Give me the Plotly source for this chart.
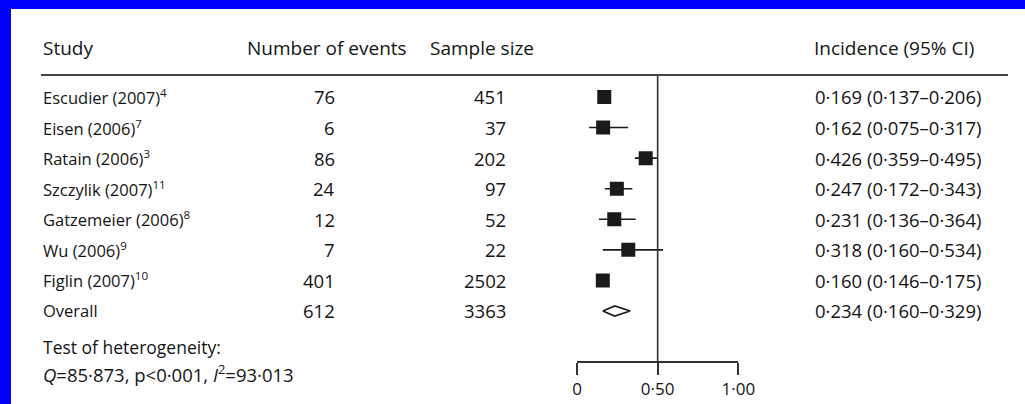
import plotly.graph_objects as go

# ---------------- data ----------------
studies = ["Escudier (2007)<sup>4</sup>", "Eisen (2006)<sup>7</sup>", "Ratain (2006)<sup>3</sup>",
           "Szczylik (2007)<sup>11</sup>", "Gatzemeier (2006)<sup>8</sup>", "Wu (2006)<sup>9</sup>",
           "Figlin (2007)<sup>10</sup>"]
overall_label = "Overall"
events = [76, 6, 86, 24, 12, 7, 401]
samples = [451, 37, 202, 97, 52, 22, 2502]
overall_events = 612
overall_sample = 3363
incidence = [0.169, 0.162, 0.426, 0.247, 0.231, 0.318, 0.160]
ci_low = [0.137, 0.075, 0.359, 0.172, 0.136, 0.160, 0.146]
ci_high = [0.206, 0.317, 0.495, 0.343, 0.364, 0.534, 0.175]
overall_inc = 0.234
overall_low = 0.160
overall_high = 0.329
tick_vals = [0, 0.5, 1.0]
tick_text = ["0", "0·50", "1·00"]
ref_line = 0.5
headers = ["Study", "Number of events", "Sample size", "Incidence (95% CI)"]
het_title = "Test of heterogeneity:"
het_stats = "<i>Q</i>=85·873, p&lt;0·001, <i>I</i><sup>2</sup>=93·013"

# ---------------- layout helpers ----------------
W, H = 1025, 404
FONT = "Open Sans"
TXT = "#151515"
FS_HEAD = 19
FS_LABEL = 16.5
FS_NUM = 18.5
FS_INC = 18.5


def px(xp):
    return xp / W


def py(yp):
    return 1 - yp / H


def fmt(v):
    return f"{v:.3f}".replace(".", "·")


n = len(studies)
row_y = list(range(n))
overall_y = n

fig = go.Figure()

# study squares with CI
fig.add_trace(go.Scatter(
    x=incidence, y=row_y, mode="markers",
    marker=dict(symbol="square", size=14, color="#1a1a1a", line=dict(width=0)),
    error_x=dict(type="data", symmetric=False,
                 array=[h - e for h, e in zip(ci_high, incidence)],
                 arrayminus=[e - l for e, l in zip(incidence, ci_low)],
                 color="#1a1a1a", thickness=1.6, width=0),
    hoverinfo="skip", showlegend=False))

# overall diamond
dh = 0.165
fig.add_trace(go.Scatter(
    x=[overall_low, overall_inc, overall_high, overall_inc, overall_low],
    y=[overall_y, overall_y - dh, overall_y, overall_y + dh, overall_y],
    mode="lines", fill="toself", fillcolor="white",
    line=dict(color="#1a1a1a", width=1.6), hoverinfo="skip", showlegend=False))

y_top_px, y_bot_px = 75, 361
row0_px, row_step = 97, 30.57
y_range = [(y_bot_px - row0_px) / row_step, (y_top_px - row0_px) / row_step]

x0_px, x1_px = 577, 738.3

fig.update_layout(
    width=W, height=H, margin=dict(l=0, r=0, t=0, b=0),
    paper_bgcolor="white", plot_bgcolor="rgba(0,0,0,0)", template="none",
    font=dict(family=FONT, size=16, color=TXT),
    xaxis=dict(domain=[px(x0_px), px(x1_px)], range=[0, 1], showgrid=False, zeroline=False,
               showline=True, linecolor="#333333", linewidth=1.6,
               ticks="outside", ticklen=12, tickwidth=1.6, tickcolor="#333333",
               tickvals=tick_vals, ticktext=tick_text,
               tickfont=dict(family=FONT, size=17, color=TXT)),
    yaxis=dict(domain=[py(y_bot_px), py(y_top_px)], range=y_range, visible=False),
)

# reference vertical line
fig.add_shape(type="line", xref="x", yref="y domain", x0=ref_line, x1=ref_line, y0=0, y1=1,
              line=dict(color="#333333", width=1.6))
# header rule
fig.add_shape(type="line", xref="paper", yref="paper", x0=px(41), x1=px(1008), y0=py(75), y1=py(75),
              line=dict(color="#444444", width=2))
# blue frame (top and left)
fig.add_shape(type="rect", xref="paper", yref="paper", x0=0, x1=1, y0=py(9), y1=1,
              fillcolor="#0000FF", line=dict(width=0), layer="below")
fig.add_shape(type="rect", xref="paper", yref="paper", x0=0, x1=px(11), y0=0, y1=1,
              fillcolor="#0000FF", line=dict(width=0), layer="below")


def ann(text, x, y, size, xanchor="left", yref="paper"):
    fig.add_annotation(text=text, x=x, y=y, xref="paper", yref=yref, xanchor=xanchor,
                       yanchor="middle", showarrow=False,
                       font=dict(family=FONT, size=size, color=TXT))


# headers
hy = py(48)
for text, xl in zip(headers, [41, 245, 428, 812]):
    ann(text, px(xl), hy, FS_HEAD)

labels = studies + [overall_label]
ev = events + [overall_events]
ss = samples + [overall_sample]
inc_txt = [f"{fmt(e)} ({fmt(l)}–{fmt(h)})" for e, l, h in zip(incidence, ci_low, ci_high)]
inc_txt.append(f"{fmt(overall_inc)} ({fmt(overall_low)}–{fmt(overall_high)})")
ys = row_y + [overall_y]
for lab, e, s, t, y in zip(labels, ev, ss, inc_txt, ys):
    ann(lab, px(41), y, FS_LABEL, yref="y")
    ann(str(e), px(337), y, FS_NUM, xanchor="right", yref="y")
    ann(str(s), px(508), y, FS_NUM, xanchor="right", yref="y")
    ann(t, px(813), y, FS_INC, yref="y")

ann(het_title, px(41), py(347), 17.5)
ann(het_stats, px(41), py(373), 18.5)

fig.write_html("out.html", config={"displayModeBar": False},
               post_script="document.body.style.margin='0';")
